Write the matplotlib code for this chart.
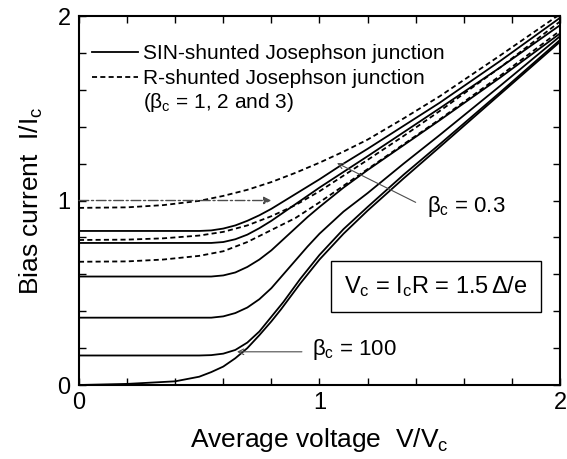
import numpy as np
import matplotlib.pyplot as plt

plt.rcParams['font.family'] = ['Liberation Sans', 'DejaVu Sans']
plt.rcParams['mathtext.fontset'] = 'custom'
plt.rcParams['mathtext.rm'] = 'Liberation Sans'
plt.rcParams['mathtext.it'] = 'Liberation Sans'
plt.rcParams['mathtext.bf'] = 'Liberation Sans:bold'

# SIN-shunted junction curves (solid)
sin_v = [
    [0, 0.5, 0.55, 0.6, 0.65, 0.7, 0.75, 0.8, 0.9, 1.0, 1.1, 1.2, 1.35, 1.5, 1.75, 2.0],
    [0, 0.55, 0.6, 0.65, 0.7, 0.75, 0.8, 0.85, 0.9, 1.0, 1.1, 1.2, 1.35, 1.5, 1.75, 2.0],
    [0, 0.55, 0.6, 0.65, 0.7, 0.75, 0.8, 0.85, 0.9, 0.95, 1.0, 1.1, 1.2, 1.35, 1.5, 1.75, 2.0],
    [0, 0.55, 0.6, 0.65, 0.7, 0.75, 0.8, 0.85, 0.9, 0.95, 1.0, 1.1, 1.2, 1.35, 1.5, 1.75, 2.0],
    [0, 0.5, 0.55, 0.6, 0.65, 0.7, 0.75, 0.8, 0.85, 0.92, 1.0, 1.1, 1.2, 1.35, 1.5, 1.75, 2.0],
    [0, 0.2, 0.4, 0.5, 0.55, 0.6, 0.65, 0.7, 0.75, 0.8, 0.84, 0.92, 1.0, 1.1, 1.2, 1.35, 1.5, 1.75, 2.0],
]
sin_i = [
    [0.835, 0.835, 0.838, 0.848, 0.865, 0.89, 0.92, 0.955, 1.035, 1.115, 1.2, 1.28, 1.405, 1.53, 1.755, 1.99],
    [0.77, 0.77, 0.775, 0.79, 0.815, 0.85, 0.89, 0.935, 0.98, 1.07, 1.155, 1.24, 1.37, 1.5, 1.72, 1.95],
    [0.588, 0.588, 0.594, 0.61, 0.64, 0.68, 0.73, 0.79, 0.85, 0.91, 0.965, 1.07, 1.165, 1.3, 1.435, 1.665, 1.905],
    [0.365, 0.365, 0.372, 0.39, 0.42, 0.465, 0.525, 0.6, 0.675, 0.75, 0.82, 0.94, 1.04, 1.2, 1.355, 1.62, 1.89],
    [0.16, 0.16, 0.162, 0.17, 0.19, 0.23, 0.29, 0.37, 0.45, 0.575, 0.705, 0.845, 0.965, 1.14, 1.305, 1.585, 1.87],
    [0, 0.006, 0.02, 0.045, 0.07, 0.1, 0.145, 0.2, 0.27, 0.345, 0.41, 0.55, 0.68, 0.82, 0.945, 1.12, 1.29, 1.575, 1.86],
]

# R-shunted junction curves (dashed), beta_c = 1, 2, 3
rsj_v = [
    [0, 0.2, 0.35, 0.5, 0.6, 0.7, 0.8, 0.9, 1.0, 1.1, 1.2, 1.35, 1.5, 1.75, 2.0],
    [0, 0.2, 0.35, 0.5, 0.6, 0.7, 0.8, 0.9, 1.0, 1.1, 1.2, 1.35, 1.5, 1.75, 2.0],
    [0, 0.2, 0.35, 0.5, 0.6, 0.7, 0.8, 0.9, 1.0, 1.1, 1.2, 1.35, 1.5, 1.75, 2.0],
]
rsj_i = [
    [0.96, 0.963, 0.975, 0.998, 1.025, 1.058, 1.1, 1.15, 1.205, 1.265, 1.33, 1.445, 1.565, 1.785, 2.01],
    [0.786, 0.788, 0.795, 0.81, 0.83, 0.865, 0.915, 0.975, 1.05, 1.135, 1.22, 1.35, 1.485, 1.72, 1.97],
    [0.668, 0.67, 0.68, 0.70, 0.725, 0.775, 0.84, 0.905, 0.99, 1.08, 1.17, 1.305, 1.44, 1.675, 1.92],
]

fig = plt.figure(figsize=(5.67, 4.59), dpi=100)
ax = fig.add_axes([0.1393, 0.1612, 0.8483, 0.8039])

lw = 1.3
for k, (v, i) in enumerate(zip(sin_v, sin_i)):
    ax.plot(v, i, color='black', lw=lw,
            label='SIN-shunted Josephson junction' if k == 0 else None)
for k, (v, i) in enumerate(zip(rsj_v, rsj_i)):
    ax.plot(v, i, color='black', lw=lw, ls=(0, (2.8, 1.8)),
            label='R-shunted Josephson junction' if k == 0 else None)

ax.set_xlim(0, 2)
ax.set_ylim(0, 2)
ax.set_xticks([0, 1, 2])
ax.set_yticks([0, 1, 2])
ax.set_xticks(np.arange(0, 2.01, 0.2), minor=True)
ax.set_yticks(np.arange(0, 2.01, 0.2), minor=True)
ax.tick_params(which='both', direction='in', top=True, right=True,
               length=5, width=1, labelsize=17)
ax.tick_params(axis='x', pad=5)
ax.tick_params(axis='y', pad=6)
for s in ax.spines.values():
    s.set_linewidth(1.5)

ax.set_xlabel('Average voltage  $V/V_c$', fontsize=19, labelpad=9)
ax.set_ylabel('Bias current  $I/I_c$', fontsize=19, labelpad=9)

leg = ax.legend(loc='upper left', bbox_to_anchor=(0.027, 0.924), frameon=False,
                fontsize=15, handlelength=2.2, handletextpad=0.25,
                labelspacing=0.28, borderaxespad=0, borderpad=0)
ax.text(0.266, 1.53, r'($\beta_c$ = 1, 2 and 3)', fontsize=15, va='center')

# dash-dot arrow at I/Ic = 1
ax.annotate('', xy=(0.8, 1.0), xytext=(0, 1.0),
            arrowprops=dict(arrowstyle='-|>', ls=(0, (7, 2, 1.5, 2)),
                            lw=1.0, color='0.3', mutation_scale=11,
                            shrinkA=0, shrinkB=0))

# beta_c labels
ax.annotate('', xy=(1.073, 1.203), xytext=(1.40, 0.99),
            arrowprops=dict(arrowstyle='->', lw=0.8, color='0.3',
                            shrinkA=0, shrinkB=0))
ax.text(1.447, 0.965, r'$\beta_c$ = 0.3', fontsize=16, va='center')
ax.annotate('', xy=(0.657, 0.18), xytext=(0.927, 0.18),
            arrowprops=dict(arrowstyle='->', lw=0.8, color='0.3',
                            shrinkA=0, shrinkB=0))
ax.text(0.97, 0.19, r'$\beta_c$ = 100', fontsize=16, va='center')

ax.text(1.485, 0.535, r'$V_c$ = $I_cR$ = 1.5$\,\Delta$/e', fontsize=17,
        ha='center', va='center',
        bbox=dict(boxstyle='square,pad=0.55', fc='white', ec='black', lw=1.0))

fig.savefig('out.png', dpi=100)
